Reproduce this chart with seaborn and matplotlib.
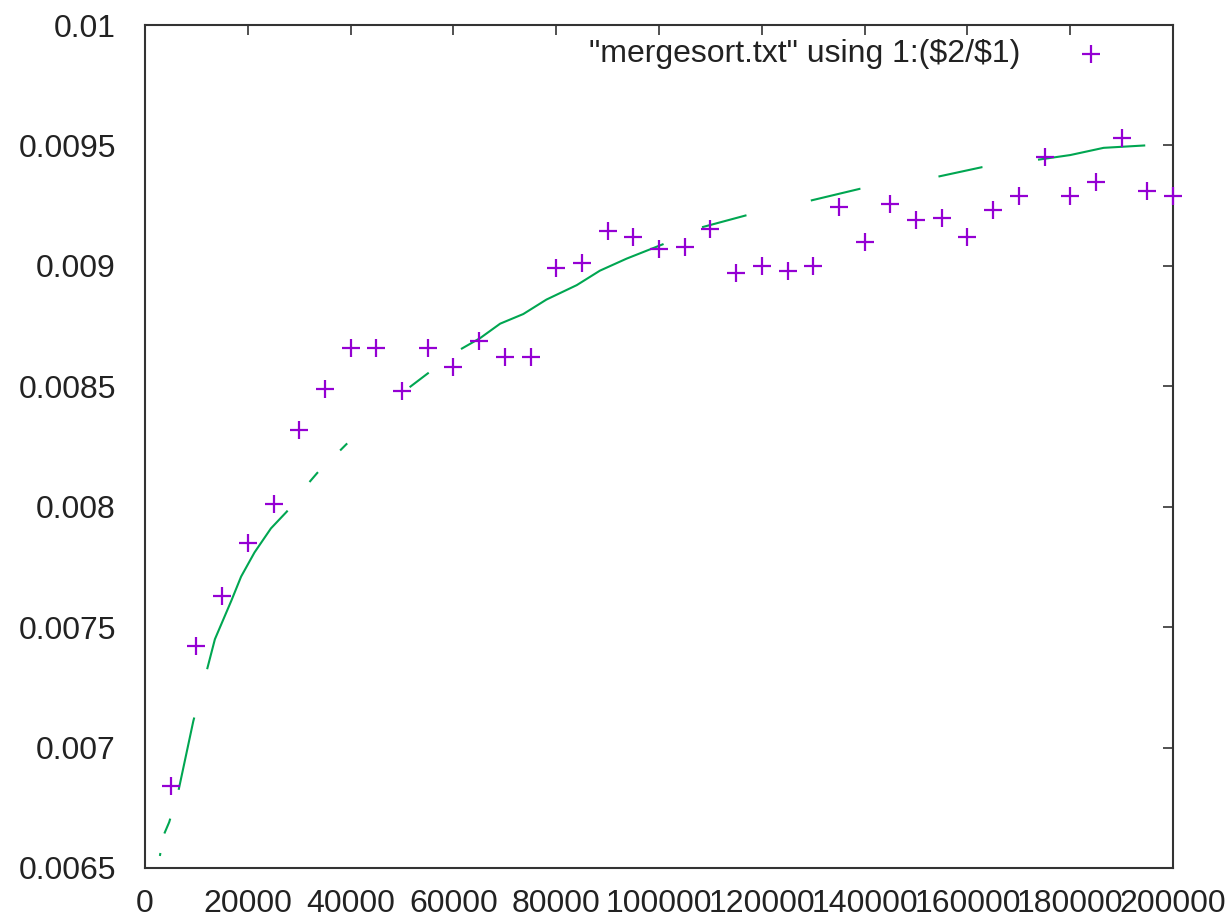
import matplotlib
matplotlib.use("Agg")
import matplotlib.pyplot as plt
import seaborn as sns
from matplotlib.ticker import MultipleLocator, FuncFormatter

# measured points: n and time/n
n_values = [5000, 10000, 15000, 20000, 25000, 30000, 35000, 40000, 45000, 50000,
            55000, 60000, 65000, 70000, 75000, 80000, 85000, 90000, 95000, 100000,
            105000, 110000, 115000, 120000, 125000, 130000, 135000, 140000, 145000, 150000,
            155000, 160000, 165000, 170000, 175000, 180000, 185000, 190000, 195000, 200000]
ratio = [0.00684, 0.00742, 0.00763, 0.00785, 0.00801, 0.00832, 0.00849, 0.00866, 0.00866, 0.00848,
         0.00866, 0.00858, 0.00869, 0.00862, 0.00862, 0.00899, 0.00901, 0.009145, 0.00912, 0.00907,
         0.00908, 0.009155, 0.00897, 0.00900, 0.00898, 0.00900, 0.009245, 0.00910, 0.009255, 0.00919,
         0.00920, 0.00912, 0.00923, 0.00929, 0.00945, 0.00929, 0.00935, 0.00953, 0.00931, 0.00929]

# fitted curve
fit_x = [2900, 3500, 4700, 6400, 9400, 11900, 13600, 16800, 18700, 21300, 24500, 27600,
         31900, 33500, 37800, 39200, 51100, 54800, 61100, 65200, 69100, 73600, 78100,
         84000, 88500, 93700, 100800, 108300, 117000, 129300, 139100, 154200, 162900,
         173500, 180000, 186500, 194600]
fit_y = [0.00655, 0.00663, 0.00669, 0.00681, 0.00711, 0.00731, 0.00745, 0.00761, 0.00771,
         0.00781, 0.00791, 0.00798, 0.00810, 0.00814, 0.00823, 0.00826, 0.00849, 0.00855,
         0.00865, 0.00870, 0.00876, 0.00880, 0.00886, 0.00892, 0.00898, 0.00903, 0.00909,
         0.00916, 0.00921, 0.00927, 0.00932, 0.00937, 0.00941, 0.00944, 0.00946, 0.00949,
         0.00950]

legend_label = r'"mergesort.txt" using 1:(\$2/\$1)'

# gnuplot-like irregular dashes (pixels along the curve)
dash_px = [3, 20, 16, 30, 74, 50, 180, 36, 13, 31, 10, 84, 24, 40, 229, 42, 46, 66,
           51, 79, 45, 56, 150, 20]

sns.set_theme(style="white")
plt.rcParams["font.family"] = ["Liberation Sans", "DejaVu Sans"]
plt.rcParams["lines.scale_dashes"] = False

fig = plt.figure(figsize=(12.31, 9.17), dpi=100)
ax = fig.add_axes([145 / 1231, 49 / 917, 1028 / 1231, 843 / 917])

sns.lineplot(x=fit_x, y=fit_y, ax=ax, color="#00a651", linewidth=1.5,
             sort=False, estimator=None)
ax.lines[-1].set_dashes([v * 72 / 100 for v in dash_px])

sns.scatterplot(x=n_values, y=ratio, ax=ax, marker="+", s=150, linewidth=1.6,
                color="#9400d3", label=legend_label, clip_on=False, zorder=3)

ax.set_xlim(0, 200000)
ax.set_ylim(0.0065, 0.01)
ax.xaxis.set_major_locator(MultipleLocator(20000))
ax.yaxis.set_major_locator(MultipleLocator(0.0005))
ax.xaxis.set_major_formatter(FuncFormatter(lambda v, p: "%g" % v))
ax.yaxis.set_major_formatter(FuncFormatter(lambda v, p: "%g" % round(v, 6)))

ax.tick_params(direction="in", length=7, width=1.2, color="#333333",
               top=True, right=True, labelsize=23, labelcolor="#222222")
ax.tick_params(axis="y", pad=21)
ax.tick_params(axis="x", pad=15)
for sp in ax.spines.values():
    sp.set_color("#333333")
    sp.set_linewidth(1.5)

ax.legend(loc="upper right", bbox_to_anchor=(0.951, 0.983), frameon=False,
          markerfirst=False, fontsize=23, handlelength=2.0, handletextpad=1.2,
          borderaxespad=0, borderpad=0, labelcolor="#222222")

fig.savefig("out.png", dpi=100)
